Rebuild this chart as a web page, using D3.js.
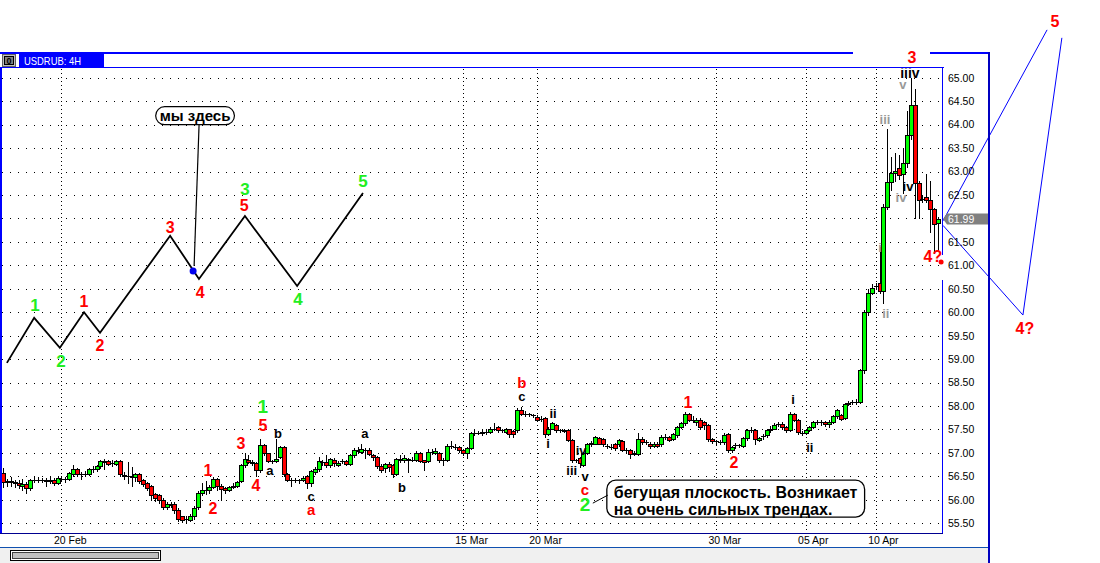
<!DOCTYPE html>
<html><head><meta charset="utf-8">
<script src="https://cdn.jsdelivr.net/npm/d3@7/dist/d3.min.js"></script>
<style>html,body{margin:0;padding:0;background:#fff;overflow:hidden}svg{display:block}</style>
</head><body>
<svg id="chart" width="1100" height="563"></svg>
<script>
// ---------------- DATA ----------------
const symbolTitle = "USDRUB: 4H";
// 4H candles: [open, high, low, close]
const ohlc = [
[56.57,56.67,56.27,56.37],[56.37,56.45,56.30,56.40],[56.40,56.48,56.30,56.38],[56.38,56.42,56.28,56.36],
[56.35,56.42,56.25,56.32],[56.30,56.45,56.20,56.34],[56.34,56.38,56.15,56.26],[56.26,56.45,56.22,56.42],
[56.42,56.50,56.38,56.42],[56.42,56.48,56.37,56.43],[56.43,56.47,56.39,56.42],[56.43,56.47,56.30,56.41],
[56.41,56.50,56.36,56.43],[56.43,56.47,56.32,56.35],[56.35,56.50,56.33,56.46],[56.45,56.50,56.40,56.44],
[56.44,56.48,56.38,56.44],[56.44,56.60,56.42,56.58],[56.56,56.75,56.50,56.65],[56.65,56.68,56.50,56.56],
[56.55,56.60,56.45,56.56],[56.56,56.62,56.50,56.55],[56.55,56.68,56.52,56.65],[56.65,56.72,56.60,56.66],
[56.66,56.75,56.62,56.72],[56.72,56.85,56.68,56.82],[56.82,56.88,56.65,56.80],[56.82,56.86,56.75,56.77],
[56.78,56.84,56.72,56.78],[56.77,56.85,56.74,56.82],[56.82,56.84,56.50,56.55],[56.52,56.60,56.45,56.50],
[56.50,56.80,56.35,56.50],[56.50,56.70,56.30,56.48],[56.48,56.58,56.40,56.55],[56.55,56.58,56.36,56.40],
[56.42,56.45,56.30,56.33],[56.35,56.38,56.20,56.25],[56.29,56.31,56.00,56.10],[56.12,56.15,55.98,56.03],
[56.10,56.12,55.94,55.99],[56.00,56.05,55.80,55.84],[55.84,55.95,55.80,55.92],[55.92,55.96,55.85,55.90],
[55.92,55.95,55.72,55.78],[55.78,55.82,55.55,55.60],[55.65,55.66,55.52,55.58],[55.60,55.65,55.50,55.60],
[55.58,55.70,55.55,55.65],[55.65,55.86,55.60,55.83],[55.84,56.18,55.80,56.15],[56.15,56.35,56.10,56.20],
[56.20,56.40,56.12,56.20],[56.20,56.32,56.15,56.27],[56.28,56.48,56.25,56.44],[56.44,56.47,56.22,56.29],
[56.30,56.33,56.00,56.24],[56.25,56.28,56.15,56.20],[56.20,56.30,56.18,56.27],[56.28,56.35,56.25,56.30],
[56.30,56.40,56.27,56.38],[56.40,56.76,56.38,56.74],[56.74,57.00,56.70,56.87],[56.85,56.95,56.78,56.80],
[56.80,56.85,56.75,56.79],[56.78,56.80,56.50,56.63],[56.63,57.30,56.60,57.16],[57.16,57.18,56.95,57.00],
[57.00,57.00,56.80,56.82],[56.82,56.86,56.78,56.82],[56.82,57.30,56.80,56.87],[56.92,57.15,56.90,57.12],
[57.12,57.15,56.50,56.55],[56.56,56.58,56.40,56.42],[56.42,56.47,56.30,56.42],[56.42,56.46,56.38,56.42],
[56.42,56.45,56.35,56.42],[56.42,56.50,56.40,56.46],[56.50,56.52,56.25,56.36],[56.36,56.64,56.30,56.61],
[56.60,56.70,56.55,56.65],[56.66,56.92,56.62,56.82],[56.80,56.85,56.75,56.80],[56.80,56.95,56.70,56.74],
[56.74,56.90,56.70,56.87],[56.84,56.90,56.72,56.78],[56.74,56.82,56.72,56.78],[56.82,56.88,56.78,56.82],
[56.82,56.86,56.75,56.77],[56.77,56.97,56.74,56.95],[56.95,57.10,56.92,57.06],[57.06,57.12,57.00,57.05],
[57.03,57.20,57.00,57.08],[57.06,57.10,56.90,57.06],[57.06,57.10,56.95,56.97],[56.95,56.97,56.85,56.91],
[56.91,56.93,56.68,56.72],[56.73,56.76,56.60,56.64],[56.68,56.78,56.60,56.76],[56.77,56.80,56.62,56.70],
[56.74,56.76,56.48,56.56],[56.56,56.90,56.54,56.88],[56.86,56.95,56.80,56.87],[56.84,56.95,56.80,56.89],
[56.88,56.90,56.60,56.84],[56.86,56.92,56.82,56.86],[56.84,57.05,56.82,56.99],[56.99,57.02,56.80,56.83],
[56.84,56.86,56.63,56.81],[56.82,57.08,56.80,57.03],[57.02,57.08,56.98,57.02],[57.00,57.10,56.98,57.04],
[57.00,57.03,56.80,56.84],[56.84,56.90,56.75,56.85],[56.84,57.20,56.82,57.14],[57.14,57.25,57.10,57.14],
[57.12,57.20,57.08,57.12],[57.12,57.15,57.03,57.06],[57.06,57.08,56.95,56.99],[56.99,57.12,56.90,57.10],
[57.10,57.45,57.08,57.42],[57.42,57.48,57.38,57.43],[57.43,57.47,57.40,57.43],[57.43,57.49,57.39,57.44],
[57.44,57.50,57.40,57.45],[57.45,57.55,57.42,57.52],[57.52,57.63,57.48,57.52],[57.56,57.58,57.45,57.48],
[57.48,57.52,57.44,57.48],[57.45,57.54,57.42,57.50],[57.50,57.52,57.35,57.41],[57.46,57.48,57.35,57.41],
[57.48,57.95,57.45,57.91],[57.91,57.98,57.80,57.84],[57.84,57.90,57.78,57.84],[57.83,57.86,57.78,57.82],
[57.81,57.84,57.76,57.80],[57.77,57.80,57.68,57.70],[57.72,57.78,57.68,57.72],[57.74,57.76,57.35,57.41],
[57.41,57.55,57.38,57.52],[57.52,57.66,57.50,57.63],[57.60,57.62,57.45,57.48],[57.48,57.52,57.44,57.48],
[57.48,57.52,57.44,57.47],[57.48,57.50,57.25,57.27],[57.27,57.29,56.80,56.84],[56.84,56.88,56.80,56.84],
[56.89,56.92,56.70,56.78],[56.74,57.02,56.72,57.00],[57.00,57.22,56.98,57.20],[57.20,57.25,57.15,57.21],
[57.20,57.36,57.18,57.33],[57.31,57.34,57.18,57.20],[57.30,57.32,57.15,57.18],[57.15,57.20,57.10,57.15],
[57.13,57.18,57.08,57.13],[57.20,57.22,57.06,57.10],[57.20,57.30,57.15,57.27],[57.25,57.28,57.04,57.06],
[57.06,57.10,57.00,57.06],[57.06,57.08,56.90,56.97],[56.98,57.05,56.95,56.99],[56.97,57.42,56.95,57.30],
[57.30,57.33,57.20,57.23],[57.23,57.28,57.18,57.23],[57.20,57.23,57.10,57.14],[57.14,57.24,57.12,57.20],
[57.20,57.23,57.12,57.15],[57.20,57.38,57.15,57.34],[57.34,57.40,57.30,57.34],[57.34,57.37,57.25,57.27],
[57.30,57.43,57.28,57.41],[57.38,57.58,57.35,57.56],[57.56,57.66,57.54,57.63],[57.63,57.88,57.60,57.84],
[57.84,57.86,57.68,57.71],[57.71,57.78,57.66,57.71],[57.66,57.75,57.60,57.71],[57.71,57.75,57.50,57.56],
[57.66,57.68,57.52,57.60],[57.59,57.62,57.25,57.29],[57.29,57.32,57.22,57.25],[57.25,57.28,57.20,57.25],
[57.24,57.27,57.20,57.23],[57.24,57.42,57.20,57.38],[57.41,57.43,57.02,57.06],[57.06,57.15,57.03,57.12],
[57.17,57.22,57.10,57.16],[57.16,57.20,57.12,57.16],[57.15,57.33,57.13,57.31],[57.31,57.50,57.28,57.48],
[57.48,57.55,57.45,57.49],[57.48,57.52,57.20,57.29],[57.27,57.35,57.25,57.32],[57.36,57.40,57.30,57.37],
[57.38,57.50,57.35,57.48],[57.48,57.58,57.45,57.51],[57.51,57.63,57.50,57.60],[57.62,57.66,57.58,57.62],
[57.62,57.65,57.52,57.56],[57.56,57.58,57.45,57.48],[57.48,57.88,57.46,57.84],[57.84,57.86,57.68,57.71],
[57.71,57.73,57.40,57.44],[57.43,57.47,57.38,57.43],[57.43,57.52,57.40,57.48],[57.48,57.58,57.46,57.56],
[57.56,57.68,57.54,57.66],[57.66,57.70,57.62,57.66],[57.66,57.70,57.60,57.65],[57.66,57.68,57.58,57.62],
[57.62,57.70,57.55,57.66],[57.66,57.80,57.64,57.78],[57.78,57.93,57.75,57.91],[57.80,57.82,57.70,57.73],
[57.74,58.06,57.72,58.04],[58.05,58.10,58.02,58.06],[58.08,58.12,58.04,58.08],[58.08,58.15,58.05,58.09],
[58.09,58.80,58.06,58.76],[58.76,60.05,58.70,60.00],[60.00,60.50,59.95,60.42],[60.42,60.60,60.38,60.52],
[60.55,60.62,60.50,60.56],[60.62,61.40,60.40,60.45],[60.45,62.30,60.20,62.25],[62.25,63.90,62.20,62.78],
[62.78,63.30,62.60,62.97],[62.97,63.40,62.80,63.02],[63.08,63.35,62.85,62.93],[62.95,63.50,62.55,63.19],
[63.19,64.30,63.10,63.78],[63.78,65.00,63.70,64.42],[64.42,64.75,62.00,62.76],[62.76,62.80,62.00,62.40],
[62.42,62.50,62.35,62.42],[62.45,62.95,62.35,62.40],[62.40,62.80,61.70,62.20],[62.20,62.22,61.26,61.88],
[61.90,62.02,61.30,61.99]
];
const dateLabels = ["20 Feb","15 Mar","20 Mar","30 Mar","05 Apr","10 Apr"];
const dateBars   = [15, 118, 137, 183, 206, 224];
const priceTicks = [55.5,56.0,56.5,57.0,57.5,58.0,58.5,59.0,59.5,60.0,60.5,61.0,61.5,62.0,62.5,63.0,63.5,64.0,64.5,65.0];
const lastPrice = 61.99;

// schematic wave (bar index, price)
const schemeBars   = [1.0, 8.0, 14.6, 20.8, 24.9, 42.9, 50.3, 62.1, 75.5, 92.4];
const schemePrices = [58.92, 59.88, 59.24, 60.00, 59.56, 61.63, 60.71, 62.05, 60.56, 62.54];
const schemeLabels = [
 ["1","gs",8.2,60.15],["2","gs",14.9,58.94],["1","r",20.8,60.22],["2","r",24.9,59.28],
 ["3","r",42.9,61.80],["4","r",50.6,60.43],["3","gs",62.1,62.61],["5","r",61.9,62.27],
 ["4","gs",75.7,60.28],["5","gs",92.4,62.78]
];
const hereDot = [48.8, 60.88];
const hereText = "мы здесь";
const hereAt = [49.3, 64.19];

// wave labels on price (text, kind, bar index, price)
const waveLabels = [
 ["1","r",52.6,56.63],["2","r",53.9,55.82],["3","r",61.1,57.21],["4","r",64.9,56.31],["5","r",66.7,57.59],
 ["1","g",66.7,57.98],["a","k",68.5,56.63],["b","k",70.6,57.42],["c","k",79.1,56.08],["a","rl",79.1,55.79],
 ["a","k",92.9,57.42],["b","k",102.4,56.27],["b","rl",133.2,58.50],["c","k",133.2,58.20],
 ["ii","k",141.2,57.85],["i","k",139.9,57.21],["iii","k",146.0,56.63],["iv","k",148.4,57.06],
 ["v","k",149.4,56.50],["c","rl",149.4,56.22],["2","g",149.4,55.90],
 ["1","r",175.8,58.08],["2","r",187.6,56.80],["i","k",202.8,58.13],["ii","k",207.1,57.12],
 ["i","gr",225.1,61.39],["ii","gr",226.6,59.98],["iii","gr",226.4,64.10],["iv","gr",230.5,62.44],
 ["iv","k",232.3,62.67],["v","gr",231.0,64.85],["iiiv","kb",232.8,65.11],["3","r",233.3,65.43],
 ["4?","r",238.7,61.18],["5","r",270.0,66.20],["4?","r",262.3,59.66]
];
// projections
const projA = [[241.3,61.95],[268.0,66.02]];
const projB = [[241.3,61.85],[261.8,59.94],[271.8,65.85]];
const alertMark = [240.8, 61.07];
const noteLines = ["бегущая плоскость. Возникает","на очень сильных трендах."];
const noteTip = [151.4, 55.93];

// ---------------- DRAW ----------------
const FONT = "'Liberation Sans', Arial, sans-serif";
const svg = d3.select("#chart");
svg.append("rect").attr("width",1100).attr("height",563).attr("fill","#fff");

const x = d3.scaleLinear().domain([0, ohlc.length-1]).range([3, 938]);
const y = d3.scaleLinear().domain([55.5, 65]).range([523.3, 77.7]);
const px = i => Math.round(x(i));
const py = p => Math.round(y(p));

svg.append("defs").append("clipPath").attr("id","pc")
  .append("rect").attr("x",2).attr("y",68).attr("width",941).attr("height",466);

// grid
const grid = svg.append("g").attr("clip-path","url(#pc)").attr("shape-rendering","crispEdges");
priceTicks.forEach(p => {
  const yy = py(p)+0.5;
  grid.append("line").attr("x1",2).attr("x2",943).attr("y1",yy).attr("y2",yy)
    .attr("stroke","#000").attr("stroke-dasharray","1,7");
});
dateBars.forEach(b => {
  const xx = px(b)+0.5;
  grid.append("line").attr("x1",xx).attr("x2",xx).attr("y1",69).attr("y2",534)
    .attr("stroke","#000").attr("stroke-dasharray","1,3");
});

// candles
const cg = svg.append("g").attr("clip-path","url(#pc)").attr("shape-rendering","crispEdges");
ohlc.forEach((d,i) => {
  const [o,h,l,c] = d;
  const rc = px(i);
  cg.append("line").attr("x1",rc+0.5).attr("x2",rc+0.5).attr("y1",py(h)).attr("y2",py(l)+1)
    .attr("stroke","#000").attr("stroke-width",1);
  const top = py(Math.max(o,c)), bot = py(Math.min(o,c));
  if (bot - top < 1) {
    cg.append("line").attr("x1",rc-2).attr("x2",rc+3).attr("y1",top+0.5).attr("y2",top+0.5)
      .attr("stroke","#000");
  } else {
    cg.append("rect").attr("x",rc-1.5).attr("y",top+0.5).attr("width",4).attr("height",bot-top)
      .attr("fill", c >= o ? "#00ff00" : "#ff0000").attr("stroke","#000").attr("stroke-width",1);
  }
});

// schematic wave
const line = d3.line().x(d=>x(d[0])).y(d=>y(d[1]));
svg.append("path").attr("d", line(schemeBars.map((b,i)=>[b, schemePrices[i]])))
  .attr("fill","none").attr("stroke","#000").attr("stroke-width",1.8).attr("stroke-linejoin","miter");

const styles = {
  r:{fill:"#ff0000",size:16}, rl:{fill:"#ff0000",size:15},
  g:{fill:"#22ee22",size:19}, gs:{fill:"#22ee22",size:17},
  k:{fill:"#000",size:13}, kb:{fill:"#000",size:14}, gr:{fill:"#999",size:13}
};
function label(t,k,b,p){
  const s = styles[k];
  svg.append("text").attr("x",x(b)).attr("y",y(p)).text(t)
    .attr("text-anchor","middle").attr("dominant-baseline","central")
    .attr("font-family",FONT).attr("font-weight","bold").attr("font-size",s.size).attr("fill",s.fill);
}
schemeLabels.forEach(d=>label(...d));

// "we are here" bubble
const bx = x(hereAt[0]), by = y(hereAt[1]);
const ht = svg.append("text").attr("x",bx).attr("y",by).text(hereText)
  .attr("text-anchor","middle").attr("dominant-baseline","central")
  .attr("font-family",FONT).attr("font-weight","bold").attr("font-size",15).attr("fill","#000");
const hb = ht.node().getBBox();
const bw = hb.width + 8, bh = 18;
svg.insert("rect", "text").attr("x",bx-bw/2).attr("y",by-bh/2).attr("width",bw).attr("height",bh)
  .attr("rx",9).attr("fill","#fff").attr("stroke","#000").attr("stroke-width",1.2);
svg.append("line").attr("x1",x(hereDot[0])+1).attr("y1",y(hereDot[1])-5).attr("x2",bx+4).attr("y2",by+bh/2)
  .attr("stroke","#000").attr("stroke-width",1.2);
svg.append("circle").attr("cx",x(hereDot[0])).attr("cy",y(hereDot[1])).attr("r",3.5).attr("fill","#0000ee");

// wave labels
waveLabels.forEach(d=>label(...d));

// projection lines
svg.append("path").attr("d", line(projA)).attr("fill","none").attr("stroke","#0000ff").attr("stroke-width",1);
svg.append("path").attr("d", line(projB)).attr("fill","none").attr("stroke","#0000ff").attr("stroke-width",1);

// note callout
const tx = x(noteTip[0]), ty = y(noteTip[1]);
const ng = svg.append("g");
const nb = ng.append("rect");
const ntext = noteLines.map((t,k) => ng.append("text").attr("x",tx+21).attr("y",ty-11+k*17).text(t)
   .attr("dominant-baseline","central").attr("font-family",FONT).attr("font-weight","bold")
   .attr("font-size",16).attr("fill","#000"));
const nw = d3.max(ntext, t=>t.node().getBBox().width);
nb.attr("x",tx+14).attr("y",ty-23).attr("width",nw+14).attr("height",37).attr("rx",9)
  .attr("fill","#fff").attr("stroke","#000").attr("stroke-width",1.3);
svg.append("line").attr("x1",tx).attr("y1",ty).attr("x2",tx+15).attr("y2",ty-8).attr("stroke","#000");

// ---------- chrome ----------
const blue = "#0000ff";
const ch = svg.append("g").attr("shape-rendering","crispEdges");
ch.append("rect").attr("x",0).attr("y",52).attr("width",853).attr("height",2).attr("fill",blue);
ch.append("rect").attr("x",930).attr("y",52).attr("width",60).attr("height",2).attr("fill",blue);
ch.append("rect").attr("x",988).attr("y",52).attr("width",2).attr("height",511).attr("fill","#0000c0");
// title bar
ch.append("rect").attr("x",19).attr("y",54).attr("width",85).attr("height",13).attr("fill",blue);
svg.append("text").attr("x",24).attr("y",64.5).text(symbolTitle).attr("fill","#fff")
  .attr("font-family",FONT).attr("font-size",11.5).attr("textLength",57).attr("lengthAdjust","spacingAndGlyphs");
// icon
ch.append("rect").attr("x",2.5).attr("y",54.5).attr("width",13).attr("height",12).attr("fill","#c0c0c0").attr("stroke","#606060");
ch.append("rect").attr("x",4.5).attr("y",56.5).attr("width",9).attr("height",8).attr("fill","#808080").attr("stroke","#000");
svg.append("text").attr("x",9).attr("y",64).text("0").attr("text-anchor","middle").attr("font-family",FONT)
  .attr("font-weight","bold").attr("font-size",9).attr("fill","#000");
// plot frame
ch.append("rect").attr("x",0).attr("y",67).attr("width",944).attr("height",1).attr("fill",blue);
ch.append("rect").attr("x",0).attr("y",67).attr("width",2).attr("height",467).attr("fill",blue);
ch.append("rect").attr("x",942).attr("y",67).attr("width",1).attr("height",188).attr("fill",blue);
ch.append("rect").attr("x",942).attr("y",280).attr("width",1).attr("height",254).attr("fill",blue);
ch.append("rect").attr("x",0).attr("y",533).attr("width",943).attr("height",1).attr("fill","#000090");
// bottom area
ch.append("rect").attr("x",0).attr("y",548).attr("width",988).attr("height",15).attr("fill","#f0f0f0");
ch.append("rect").attr("x",0).attr("y",547).attr("width",988).attr("height",1).attr("fill","#1050b0");
ch.append("rect").attr("x",10.5).attr("y",550.5).attr("width",150).attr("height",10).attr("fill","#fff").attr("stroke","#000");
ch.append("rect").attr("x",12.5).attr("y",552.5).attr("width",146).attr("height",6).attr("fill","#c0c0c0").attr("stroke","#404040");

// axes
const yAxis = d3.axisRight(y).tickValues(priceTicks).tickFormat(d3.format(".2f")).tickSize(0).tickPadding(5);
const ya = svg.append("g").attr("transform","translate(943,0)").call(yAxis);
ya.select(".domain").remove();
ya.selectAll("text").attr("font-family",FONT).attr("font-size",10.5).attr("fill","#000");

const xAxis = d3.axisBottom(x).tickValues(dateBars).tickFormat((d,i)=>dateLabels[i]).tickSize(0).tickPadding(3);
const xa = svg.append("g").attr("transform","translate(0,534)").call(xAxis);
xa.select(".domain").remove();
xa.selectAll("text").attr("font-family",FONT).attr("font-size",10.5).attr("fill","#000")
  .attr("text-anchor","start").attr("dx",-8);

// last price tag
const ly = y(lastPrice);
svg.append("path").attr("d",`M943,${ly} L947,${ly-5.5} L988,${ly-5.5} L988,${ly+5.5} L947,${ly+5.5} Z`).attr("fill","#808080");
svg.append("text").attr("x",948).attr("y",ly).attr("dominant-baseline","central").text(d3.format(".2f")(lastPrice))
  .attr("font-family",FONT).attr("font-size",10.5).attr("fill","#fff");
// alert mark
svg.append("circle").attr("cx",x(alertMark[0])).attr("cy",y(alertMark[1])).attr("r",2.5).attr("fill","#ff0000");
</script>
</body></html>
